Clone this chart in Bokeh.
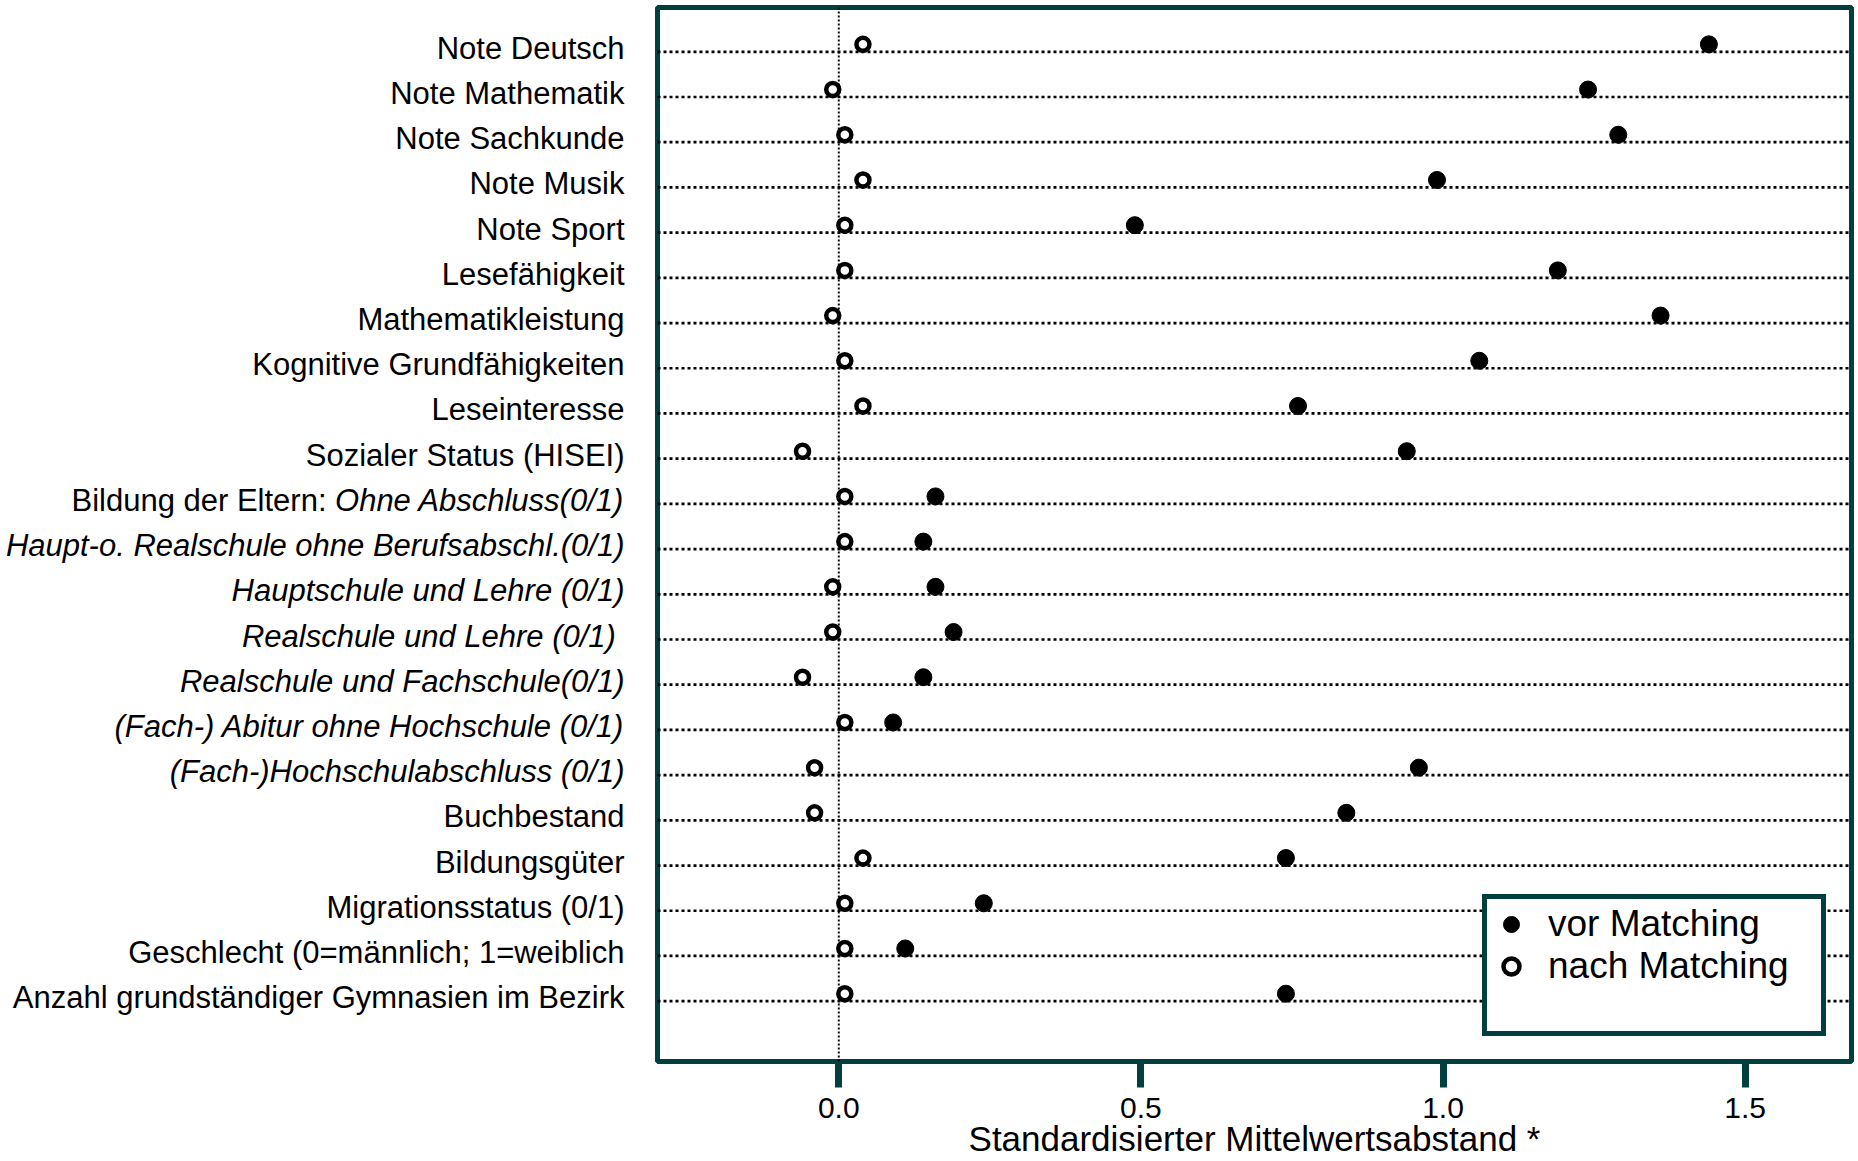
from bokeh.plotting import figure
from bokeh.layouts import row
from bokeh.core.properties import value
from bokeh.models import (Range1d, Span, Legend, LegendItem, FixedTicker,
                          NumeralTickFormatter, ColumnDataSource)
from bokeh.embed import file_html
from bokeh.resources import INLINE

# ---------------- data ----------------
categories = [
    "Note Deutsch",
    "Note Mathematik",
    "Note Sachkunde",
    "Note Musik",
    "Note Sport",
    "Lesefähigkeit",
    "Mathematikleistung",
    "Kognitive Grundfähigkeiten",
    "Leseinteresse",
    "Sozialer Status (HISEI)",
    "Ohne Abschluss(0/1)",
    "Haupt-o. Realschule ohne Berufsabschl.(0/1)",
    "Hauptschule und Lehre (0/1)",
    "Realschule und Lehre  (0/1)",
    "Realschule und Fachschule(0/1)",
    "(Fach-) Abitur ohne Hochschule (0/1)",
    "(Fach-)Hochschulabschluss (0/1)",
    "Buchbestand",
    "Bildungsgüter",
    "Migrationsstatus (0/1)",
    "Geschlecht (0=männlich; 1=weiblich",
    "Anzahl grundständiger Gymnasien im Bezirk",
]
group_prefix = "Bildung der Eltern:"
italic_categories = categories[10:17]

vor_matching = [1.44, 1.24, 1.29, 0.99, 0.49, 1.19, 1.36, 1.06, 0.76, 0.94,
                0.16, 0.14, 0.16, 0.19, 0.14, 0.09, 0.96, 0.84, 0.74, 0.24,
                0.11, 0.74]
nach_matching = [0.04, -0.01, 0.01, 0.04, 0.01, 0.01, -0.01, 0.01, 0.04, -0.06,
                 0.01, 0.01, -0.01, -0.01, -0.06, 0.01, -0.04, -0.04, 0.04, 0.01,
                 0.01, 0.01]

x_ticks = [0.0, 0.5, 1.0, 1.5]
x_title = "Standardisierter Mittelwertsabstand *"
legend_labels = ["vor Matching", "nach Matching"]

# ---------------- style ----------------
TEAL = "#033f3f"
FONT = "Liberation Sans"
LABEL_W = 653          # width of the label column
FRAME_W, FRAME_H = 1194, 1054
TOP = 7
X0, X1 = -0.30, 1.676
n = len(categories)
rows = list(range(n))

y_range = Range1d(n + 0.5, -0.815)

# ---------------- main plot ----------------
p = figure(frame_width=FRAME_W, frame_height=FRAME_H, output_backend="svg",
           toolbar_location=None, x_range=Range1d(X0, X1), y_range=y_range,
           y_axis_location=None,
           min_border_left=4, min_border_right=5,
           min_border_top=TOP, min_border_bottom=0)
p.background_fill_color = "white"
p.border_fill_color = "white"
p.outline_line_color = TEAL
p.outline_line_width = 5
p.outline_line_alpha = 1.0
p.xgrid.visible = False
p.ygrid.visible = False

# dotted row lines (slightly below the markers as in the original)
for i in rows:
    p.add_layout(Span(location=i + 0.165, dimension="width", line_color="black",
                      line_dash="3 3", line_width=2.7, level="underlay"))
# zero reference line
p.add_layout(Span(location=0, dimension="height", line_color="black",
                  line_dash="2 2", line_width=2, level="underlay"))

src = ColumnDataSource(dict(y=rows, vor=vor_matching, nach=nach_matching))
r_vor = p.scatter("vor", "y", source=src, marker="circle", size=17,
                  fill_color="black", line_color="black")
r_nach = p.scatter("nach", "y", source=src, marker="circle", size=13,
                   fill_color="white", line_color="black", line_width=4.5)
r_blank = p.scatter(x=[], y=[], marker="circle", size=1, fill_alpha=0, line_alpha=0)

# x axis
ax = p.xaxis[0]
ax.ticker = FixedTicker(ticks=x_ticks)
ax.formatter = NumeralTickFormatter(format="0.0")
ax.axis_line_color = None
ax.major_tick_line_color = TEAL
ax.major_tick_line_width = 7
ax.major_tick_out = 26
ax.major_tick_in = 0
ax.minor_tick_line_color = None
ax.major_label_text_font = FONT
ax.major_label_text_font_size = "30px"
ax.major_label_text_color = "black"
ax.major_label_standoff = 10
ax.axis_label = x_title
ax.axis_label_text_font = FONT
ax.axis_label_text_font_size = "35px"
ax.axis_label_text_font_style = "normal"
ax.axis_label_text_color = "black"
ax.axis_label_standoff = -2

legend = Legend(items=[LegendItem(label=legend_labels[0], renderers=[r_vor]),
                       LegendItem(label=legend_labels[1], renderers=[r_nach]),
                       LegendItem(label=" ", renderers=[r_blank])],
                location="bottom_right", margin=25, padding=4, spacing=0,
                glyph_width=40, glyph_height=40, label_height=40, label_width=269,
                label_standoff=17,
                label_text_font=FONT, label_text_font_size="37px",
                label_text_color="black",
                border_line_color=TEAL, border_line_width=5, border_line_alpha=1.0,
                background_fill_color="white", background_fill_alpha=1.0)
p.add_layout(legend, "center")

# ---------------- label column ----------------
lab = figure(width=LABEL_W, frame_height=FRAME_H, output_backend="svg",
             toolbar_location=None, x_range=Range1d(0, LABEL_W), y_range=y_range,
             x_axis_location=None, y_axis_location=None,
             min_border_left=0, min_border_right=0,
             min_border_top=TOP, min_border_bottom=0)
lab.outline_line_color = None
lab.background_fill_color = "white"
lab.border_fill_color = "white"
lab.xgrid.visible = False
lab.ygrid.visible = False

LABEL_RIGHT = 624
lab_src = ColumnDataSource(dict(
    x=[LABEL_RIGHT] * n, y=rows, text=categories,
    style=["italic" if c in italic_categories else "normal" for c in categories]))
lab.text(x="x", y="y", text="text", source=lab_src, text_align="right",
         text_baseline="alphabetic", y_offset=4, text_font_style="style",
         text_font=value(FONT), text_font_size="31px", text_color="black")
pre_src = ColumnDataSource(dict(x=[LABEL_RIGHT], y=[categories.index("Ohne Abschluss(0/1)")],
                                text=[group_prefix]))
lab.text(x="x", y="y", text="text", source=pre_src, text_align="right",
         text_baseline="alphabetic", y_offset=4, x_offset=-298,
         text_font=value(FONT), text_font_size="31px", text_color="black")

layout = row(lab, p)
open("out.html", "w").write(file_html(layout, INLINE))
